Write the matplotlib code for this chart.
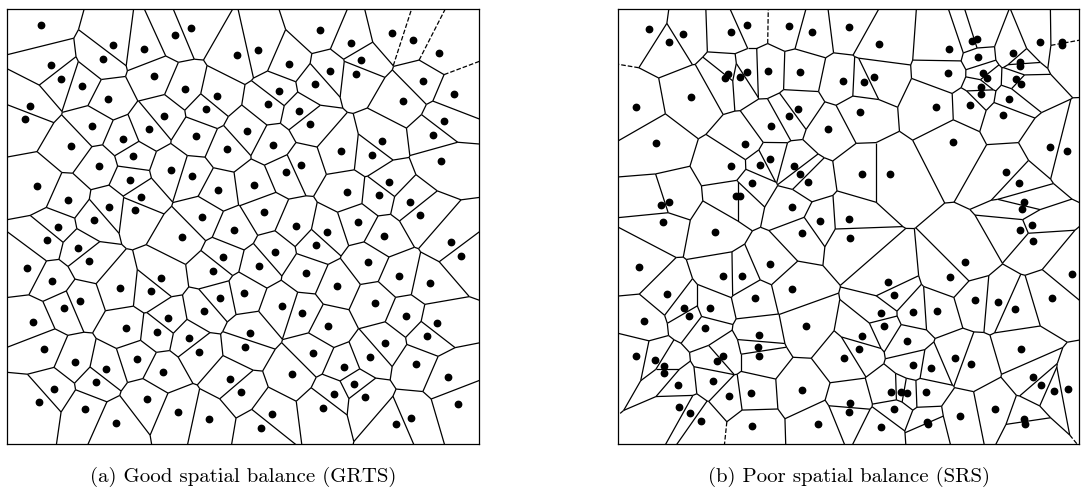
import matplotlib.pyplot as plt
import matplotlib.tri as mtri
from matplotlib.collections import LineCollection
import numpy as np

plt.rcParams['font.family'] = 'cmr10'
plt.rcParams['axes.unicode_minus'] = False

# study area extents (grid units)
grts_extent = (472, 435)
srs_extent = (461, 435)

# GRTS sample sites
grts_x = [33.7, 106.3, 137, 167.7, 183.7, 230.3, 43.7, 95.7, 54.3, 74.7,
          147.3, 178.3, 209.7, 23, 18, 100.7, 199, 157.3, 85.3, 141.7,
          240, 116.3, 189, 64.3, 219.7, 126.3, 92, 164.3, 185.3, 30.3,
          123, 211, 61, 133.7, 102.3, 128.3, 195.3, 87, 50.7, 227,
          40.3, 174.7,
          313, 385.3, 406, 251.3, 344.3, 432, 282, 354.3, 323, 349,
          416, 308, 447.3, 271.7, 395.7, 261.3, 292.3, 437, 302.7, 426.3,
          375, 266.3, 364.7, 333.7, 433.7, 294, 278.7, 381.7, 247.3, 340.3,
          371.7, 402.7, 413.3, 257.3, 289, 351, 320, 377, 444.3, 309,
          71.3, 19.7, 81.7, 216.3, 205.7, 154.3, 45.3, 112.7, 143.7, 213,
          237, 73, 57.3, 197.3, 161, 26.3, 119.3, 150.3, 243, 181.7,
          238.5, 36.7, 192, 129.7, 67.7, 99, 155.7, 223, 88.7, 234.2,
          47, 140, 31.7, 78.3, 171.3, 202.3, 109,
          454.3, 268, 252.3, 361, 299.3, 392.3, 423, 330, 367.7, 274.7,
          295.3, 399, 321.3, 430, 419.7, 378.3, 305.7, 363, 409.3, 337,
          285.3, 440.7, 347.3, 326.7, 357.7, 451, 316.3, 264.7, 404.3, 389,
          254]
grts_y = [419, 399, 395, 409, 415.7, 389, 378.7, 385, 365, 358.3,
          368.3, 355, 348, 338, 325, 345, 335, 328, 318, 315,
          313, 304.7, 308, 298, 294.7, 288, 278, 274.3, 267.7, 257.7,
          264, 254, 244, 247.3, 237.3, 234, 227.3, 224, 216.7, 213.7,
          204, 207,
          414, 410.7, 404, 393.7, 400.7, 390.7, 380.3, 383.7, 373.3, 370.3,
          363.3, 360, 350, 353.3, 343.3, 339.7, 333, 323.3, 319.7, 309.3,
          303, 299.3, 289.3, 292.7, 282.7, 279.3, 272.3, 262.3, 259, 252.3,
          249, 242, 228.7, 232, 218.3, 222, 211.7, 208, 201.7, 199.5,
          196.3, 176.3, 183, 186.7, 173.3, 166.3, 163, 156.3, 153, 146.3,
          151.3, 142.7, 136, 132.7, 126, 122.3, 116, 112.3, 110.8, 105.7,
          97.3, 95.3, 92.3, 85.3, 82, 75.3, 72, 65.3, 62, 52.2,
          55.3, 45, 41.7, 35, 31.7, 25, 21.3,
          188.3, 191.7, 178, 181.7, 171.3, 168, 161.3, 158, 141, 137.7,
          131, 127.7, 117.7, 121, 107.7, 100.7, 90.7, 87.3, 80.3, 77,
          70.3, 66.7, 60.3, 50, 46.7, 40, 36.3, 29.7, 26.3, 19.7,
          16.3]

# simple random sample sites
srs_x = [30.7, 64.7, 51.3, 112.7, 129, 171, 194, 231.3, 110, 107.3,
         129, 121.7, 150, 182.3, 225, 17.7, 72.7, 180.3, 170.7, 152.7,
         210.3, 38, 127, 152.3, 142, 113.3, 176, 182.3, 190, 134.3,
         118, 121.7, 51.3, 43, 174, 44.7, 202, 231.3, 97.3, 184,
         232,
         260.7, 330.7, 354.3, 358.7, 422, 443.7, 444.3, 360, 394.7, 402,
         402.3, 246, 256.3, 330.3, 365.3, 369.3, 397.7, 402.7, 362.7, 363,
         391, 317.7, 351.7, 242, 384.7, 335.3, 431.7, 448.7, 244.3, 272,
         388.3, 400.7, 406, 404.3, 413.7, 402.3, 414.7,
         21.3, 104.7, 124, 151.7, 174.3, 48.7, 136.7, 66.3, 71.3, 92.3,
         26.3, 187.7, 87, 141, 140, 141.3, 17.7, 37, 104.7, 99,
         46.3, 46.3, 226, 95, 60.3, 133, 184.3, 111, 61, 72.3,
         232, 231.3, 83.3, 134, 200.3,
         346.7, 331.7, 454.3, 270.3, 276.3, 357, 380.3, 434, 397.3, 295.3,
         319.3, 262.7, 266, 244.3, 240.7, 289.3, 403.3, 337, 353.3, 295,
         313, 415.3, 422.7, 436.3, 450, 273.3, 283, 288.7, 308, 276.3,
         377.3, 342.3, 309.3, 310.3, 406, 406.7, 262.7]
srs_y = [414.7, 410, 401.7, 411.7, 419, 418.3, 412, 416.7, 369.7, 366.3,
         372, 367.3, 372.7, 371.7, 362.7, 336.7, 347, 335.3, 328.3, 318.3,
         315, 301.3, 299.7, 284.7, 279.3, 278.3, 278.3, 270, 262.3, 261.3,
         248, 248, 242, 239.3, 237.3, 222, 223.3, 225.3, 212, 210.7,
         205.7,
         400.3, 395.3, 403.3, 404.7, 402, 402.3, 399, 387.3, 390.7, 382.3,
         378, 361.7, 366.7, 371.3, 370.7, 365.7, 364.7, 360, 357.3, 350,
         345.3, 337.3, 338.7, 331.7, 328.7, 302.3, 297, 292.7, 270, 270,
         272.3, 260.7, 242, 235, 218.7, 214, 203.3,
         177.3, 168, 168.3, 180.3, 155.3, 149.7, 146.3, 136.3, 127.7, 136.3,
         123, 118, 115.7, 108.7, 96.7, 88.3, 87.7, 83.7, 88.3, 83.3,
         78, 71.3, 86.3, 63, 59.3, 50.7, 54.3, 47.7, 37, 30.7,
         40.7, 32.3, 23, 17.7, 19.7,
         182.3, 167.3, 170.3, 161.7, 149, 144.3, 142.3, 145.7, 134.7, 131.7,
         133.3, 130.7, 117.7, 107.7, 95.3, 103.3, 94.7, 86, 80, 78.7,
         75.7, 67.3, 58.7, 52.7, 55.3, 52, 52.3, 51.3, 52, 35,
         35, 28, 22.3, 20, 24.7, 20, 16.7]

captions = ['(a) Good spatial balance (GRTS)', '(b) Poor spatial balance (SRS)']


def voronoi_ridges(x, y):
    # Voronoi ridges from the Delaunay triangulation (circumcentres of
    # neighbouring triangles); hull edges give rays running outward
    pts = np.column_stack([x, y])
    tri = mtri.Triangulation(x, y)
    tris, nbrs = tri.triangles, tri.neighbors
    a, b, c = pts[tris[:, 0]], pts[tris[:, 1]], pts[tris[:, 2]]
    sa, sb, sc = (a ** 2).sum(1), (b ** 2).sum(1), (c ** 2).sum(1)
    d = 2 * (a[:, 0] * (b[:, 1] - c[:, 1]) + b[:, 0] * (c[:, 1] - a[:, 1])
             + c[:, 0] * (a[:, 1] - b[:, 1]))
    ux = (sa * (b[:, 1] - c[:, 1]) + sb * (c[:, 1] - a[:, 1])
          + sc * (a[:, 1] - b[:, 1])) / d
    uy = (sa * (c[:, 0] - b[:, 0]) + sb * (a[:, 0] - c[:, 0])
          + sc * (b[:, 0] - a[:, 0])) / d
    centres = np.column_stack([ux, uy])

    centre = pts.mean(axis=0)
    reach = np.ptp(pts, axis=0).max()
    finite, infinite = [], []
    for i in range(len(tris)):
        for k in range(3):
            j = nbrs[i, k]
            if j > i:
                finite.append([centres[i], centres[j]])
            elif j == -1:
                p1 = pts[tris[i, k]]
                p2 = pts[tris[i, (k + 1) % 3]]
                t = (p2 - p1) / np.linalg.norm(p2 - p1)
                n = np.array([-t[1], t[0]])
                mid = (p1 + p2) / 2
                direction = np.sign(np.dot(mid - centre, n)) * n
                infinite.append([centres[i], centres[i] + direction * reach])
    return finite, infinite


fig = plt.figure(figsize=(10.81, 4.88), dpi=100)
W, H = 1081, 488
panels = [
    (grts_x, grts_y, grts_extent, 7),
    (srs_x, srs_y, srs_extent, 618),
]

for (xs, ys, (w, h), left), caption in zip(panels, captions):
    ax = fig.add_axes([left / W, 44 / H, w / W, h / H])
    finite, infinite = voronoi_ridges(np.array(xs, float), np.array(ys, float))
    ax.add_collection(LineCollection(finite, colors='black', linewidths=0.9))
    ax.add_collection(LineCollection(infinite, colors='black', linewidths=0.9,
                                     linestyles='dashed'))
    ax.plot(xs, ys, 'o', color='black', ms=4.6)
    ax.set_xlim(0, w)
    ax.set_ylim(0, h)
    ax.set_xticks([])
    ax.set_yticks([])
    for s in ax.spines.values():
        s.set_linewidth(0.9)
    fig.text((left + w / 2) / W, 1 - 477 / H, caption, ha='center', va='center',
             fontsize=15)

fig.savefig('out.png', dpi=100)
